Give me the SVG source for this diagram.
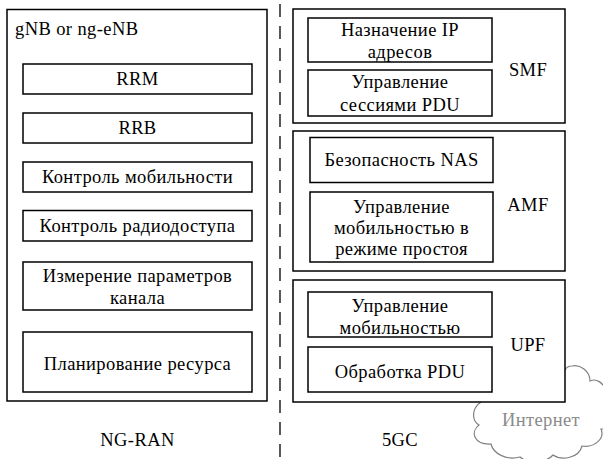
<svg xmlns="http://www.w3.org/2000/svg" width="603" height="459" viewBox="0 0 603 459">
  <style>
    .frame { fill: #ffffff; stroke: #000000; stroke-width: 1.5; }
    .box { fill: #ffffff; stroke: #000000; stroke-width: 1.5; }
    .c { text-anchor: middle; dominant-baseline: central; }
    .divider { fill: none; stroke: #000000; stroke-width: 1.3; stroke-dasharray: 13 9; }
    .cloud { fill: #ffffff; stroke: #808080; stroke-width: 1.2; }
    .gray { fill: #8a8a8a; }
  </style>

  <rect width="603" height="459" fill="#ffffff"/>

  <!-- separator between access network and core -->
  <g id="connectors">
    <line class="divider" x1="280" y1="4" x2="280" y2="459"/>
  </g>

  <g font-family="Liberation Serif, Times New Roman, serif" font-size="18.5" letter-spacing="0.4" fill="#000000">
  <!-- Internet cloud, partly hidden behind the UPF frame -->
  <g id="internet">
    <path class="cloud" d="M 481 402
      C 472 408 471 420 479 425
      C 470 432 474 445 491 444
      C 493 453 506 461 520 457
      C 528 464 546 463 553 455
      C 562 461 579 458 582 446
      C 595 448 605 438 601 429
      L 607 429 L 607 392
      C 603 382 596 378 590 381
      C 590 371 580 364 572 366
      C 568 366 566 368 565 370 Z"/>
    <text class="c gray" x="541" y="420">Интернет</text>
  </g>

  <!-- NG-RAN side -->
  <g id="gnb">
    <rect class="frame" x="7" y="9.5" width="260" height="391.5"/>
    <text x="15" y="35">gNB or ng-eNB</text>
  </g>
  <g id="rrm">
    <rect class="box" x="23" y="64" width="229" height="30"/>
    <text class="c" x="137.5" y="79">RRM</text>
  </g>
  <g id="rrb">
    <rect class="box" x="23" y="113" width="229" height="30"/>
    <text class="c" x="137.5" y="128">RRB</text>
  </g>
  <g id="mobility-control">
    <rect class="box" x="23" y="162" width="229" height="30"/>
    <text class="c" x="137.5" y="177">Контроль мобильности</text>
  </g>
  <g id="radio-access-control">
    <rect class="box" x="23" y="210.5" width="229" height="30.5"/>
    <text class="c" x="137.5" y="226">Контроль радиодоступа</text>
  </g>
  <g id="channel-measurement">
    <rect class="box" x="23" y="262" width="229" height="48"/>
    <text class="c" x="137.5" y="276">Измерение параметров</text>
    <text class="c" x="137.5" y="298">канала</text>
  </g>
  <g id="resource-scheduling">
    <rect class="box" x="23" y="332" width="229" height="60"/>
    <text class="c" x="137.5" y="364">Планирование ресурса</text>
  </g>
  <text class="c" x="137.5" y="440">NG-RAN</text>

  <!-- 5GC side: SMF -->
  <g id="smf">
    <rect class="frame" x="293" y="9" width="272" height="114"/>
    <text class="c" x="528" y="70">SMF</text>
  </g>
  <g id="ip-allocation">
    <rect class="box" x="308" y="18" width="184" height="44"/>
    <text class="c" x="400" y="30">Назначение IP</text>
    <text class="c" x="400" y="52">адресов</text>
  </g>
  <g id="pdu-session-control">
    <rect class="box" x="308" y="70" width="184" height="46"/>
    <text class="c" x="400" y="82">Управление</text>
    <text class="c" x="400" y="105">сессиями PDU</text>
  </g>

  <!-- AMF -->
  <g id="amf">
    <rect class="frame" x="293" y="131" width="272" height="140"/>
    <text class="c" x="528" y="205">AMF</text>
  </g>
  <g id="nas-security">
    <rect class="box" x="310" y="137.5" width="183" height="45"/>
    <text class="c" x="401.5" y="160">Безопасность NAS</text>
  </g>
  <g id="idle-mobility">
    <rect class="box" x="310" y="192" width="183" height="70"/>
    <text class="c" x="401.5" y="207">Управление</text>
    <text class="c" x="401.5" y="228">мобильностью в</text>
    <text class="c" x="401.5" y="249">режиме простоя</text>
  </g>

  <!-- UPF -->
  <g id="upf">
    <rect class="frame" x="293" y="280" width="272" height="122"/>
    <text class="c" x="528" y="345">UPF</text>
  </g>
  <g id="upf-mobility">
    <rect class="box" x="308" y="292" width="184" height="45"/>
    <text class="c" x="400" y="306">Управление</text>
    <text class="c" x="400" y="328">мобильностью</text>
  </g>
  <g id="pdu-handling">
    <rect class="box" x="308" y="347" width="184" height="45"/>
    <text class="c" x="400" y="372">Обработка PDU</text>
  </g>
  <text class="c" x="400" y="440">5GC</text>
  </g>
</svg>
